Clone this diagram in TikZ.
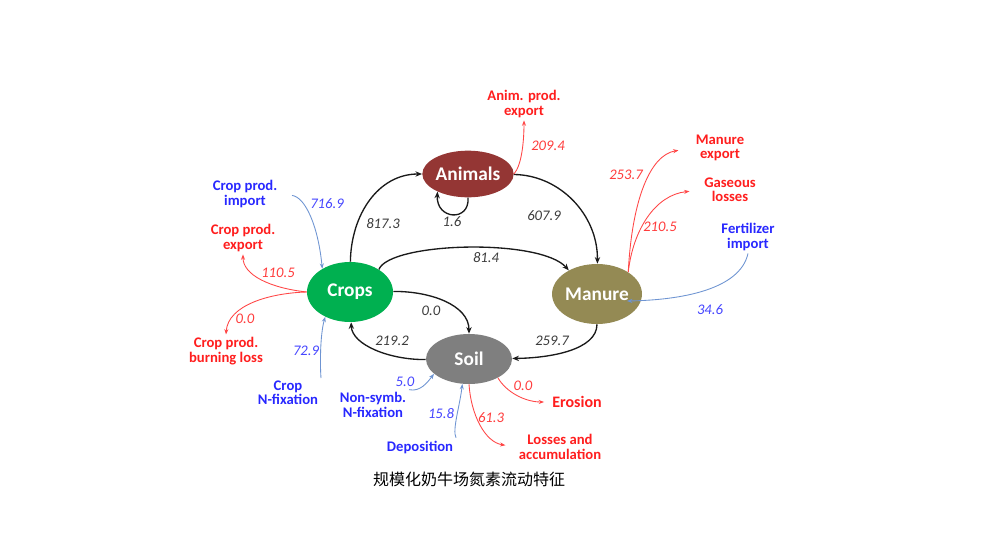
\documentclass[tikz,border=0pt]{standalone}
\usepackage{fontspec}
\setmainfont{Carlito}
\newfontfamily\cjk{Noto Sans CJK SC}
\usetikzlibrary{arrows.meta,shapes.geometric}
\definecolor{animfill}{HTML}{943634}
\definecolor{cropfill}{HTML}{00B050}
\definecolor{manfill}{HTML}{948A54}
\definecolor{soilfill}{HTML}{7F7F7F}
\definecolor{lblred}{HTML}{FF1E1E}
\definecolor{lblblue}{HTML}{2828FF}
\definecolor{numred}{HTML}{FF3C3C}
\definecolor{numblue}{HTML}{4646FF}
\definecolor{numgray}{HTML}{3C3C3C}
\definecolor{flowblack}{HTML}{1A1A1A}
\definecolor{flowred}{HTML}{FF4646}
\definecolor{flowblue}{HTML}{6E94D2}
\begin{document}
\begin{tikzpicture}[x=0.75pt,y=-0.75pt,
  pool/.style={ellipse, inner sep=0pt, text=white, font=\bfseries\fontsize{14.5}{16}\selectfont},
  redlbl/.style={text=lblred, font=\bfseries\fontsize{11}{10.8}\selectfont, align=center, inner sep=2pt},
  bluelbl/.style={text=lblblue, font=\bfseries\fontsize{11}{10.8}\selectfont, align=center, inner sep=2pt},
  num/.style={font=\itshape\fontsize{11}{12}\selectfont, text=numgray, inner sep=0pt},
  rednum/.style={num, text=numred},
  bluenum/.style={num, text=numblue},
  flow/.style={draw=flowblack, line width=1pt, -{Stealth[length=5pt,width=4pt]}},
  rflow/.style={draw=flowred, line width=0.65pt, -{Stealth[length=4pt,width=3pt]}},
  bflow/.style={draw=flowblue, line width=0.65pt, -{Stealth[length=4pt,width=3pt]}}]
\useasboundingbox[fill=white] (0,0) rectangle (1000,539);

% pools
\node[pool, fill=animfill, minimum width=66pt, minimum height=35pt] (animals) at (468,174) {Animals};
\node[pool, fill=cropfill, minimum width=64.5pt, minimum height=45pt] (crops) at (350,292) {Crops};
\node[pool, fill=manfill, minimum width=64.5pt, minimum height=45pt] (manure) at (597,294) {Manure};
\node[pool, fill=soilfill, minimum width=64.5pt, minimum height=37.5pt] (soil) at (469,359) {Soil};

% external labels
\node[redlbl] (animexp) at (524,104) {Anim. prod.\\export};
\node[redlbl] (manexp) at (720,148) {Manure\\export};
\node[redlbl] (gas) at (730,190) {Gaseous\\losses};
\node[bluelbl] (fert) at (748,237) {Fertilizer\\import};
\node[bluelbl] (cimp) at (245,194) {Crop prod.\\import};
\node[redlbl] (cexp) at (243,238) {Crop prod.\\export};
\node[redlbl] (burn) at (226,351) {Crop prod.\\burning loss};
\node[bluelbl] (cfix) at (288,393) {Crop\\N-fixation};
\node[bluelbl] (nsf) at (373,405) {Non-symb.\\N-fixation};
\node[bluelbl] (dep) at (420,447) {Deposition};
\node[redlbl, font=\bfseries\fontsize{12}{12}\selectfont] (eros) at (577,402) {Erosion};
\node[redlbl] (loss) at (560,447) {Losses and\\accumulation};
\coordinate (fertend) at (627,301);

% internal flows
\draw[flow] (crops) .. controls (351,215) and (378,174) .. (animals);
\draw[flow] (animals) .. controls (560,175) and (598,215) .. (manure);
\draw[flow] (animals.south) .. controls (470,222) and (436,220) .. (animals.-150);
\draw[flow] (crops.38) .. controls (390,242) and (540,238) .. (manure.140);
\draw[flow] (crops) .. controls (430,291) and (469,305) .. (soil);
\draw[flow] (soil) .. controls (390,360) and (352,345) .. (crops);
\draw[flow] (manure) .. controls (597,350) and (550,358) .. (soil);

% outputs and inputs
\draw[rflow] (animals.east) .. controls (522,165) and (524,140) .. (animexp.south);
\draw[rflow, shorten >=11pt] (manure.35) .. controls (632,200) and (650,155) .. (manexp.west);
\draw[rflow, shorten >=9pt] (manure.35) .. controls (633,230) and (655,195) .. (gas.west);
\draw[bflow] (fert.south) .. controls (740,290) and (680,300) .. (fertend);
\draw[bflow, shorten <=9pt] (cimp.east) .. controls (305,197) and (318,225) .. (crops.140);
\draw[rflow] (crops.west) .. controls (270,288) and (243,275) .. (cexp.south);
\draw[rflow] (crops.west) .. controls (270,293) and (228,305) .. (burn.north);
\draw[bflow] (cfix.north east) .. controls (320,365) and (320,335) .. (crops.-135);
\draw[bflow] (nsf.north east) .. controls (420,392) and (427,383) .. (soil.-157);
\draw[bflow] (dep.north east) .. controls (452,430) and (460,405) .. (soil.-105);
\draw[rflow, shorten >=4pt] (soil.-33) .. controls (506,392) and (525,402) .. (eros.west);
\draw[rflow, shorten >=8pt] (soil.south) .. controls (471,415) and (485,442) .. (loss.west);

% flow values
\node[num] (v1) at (383,224) {817.3};
\node[num] (v2) at (452,222) {1.6};
\node[num] (v3) at (544,216) {607.9};
\node[num] (v4) at (486,258) {81.4};
\node[num] (v5) at (431,311) {0.0};
\node[num] (v6) at (392,341) {219.2};
\node[num] (v7) at (552,341) {259.7};
\node[rednum] (v8) at (548,146) {209.4};
\node[rednum] (v9) at (626,175) {253.7};
\node[rednum] (v10) at (660,227) {210.5};
\node[bluenum] (v11) at (710,310) {34.6};
\node[bluenum] (v12) at (327,204) {716.9};
\node[rednum] (v13) at (278,273) {110.5};
\node[rednum] (v14) at (245,319) {0.0};
\node[bluenum] (v15) at (306,351) {72.9};
\node[bluenum] (v16) at (405,382) {5.0};
\node[bluenum] (v17) at (441,414) {15.8};
\node[rednum] (v18) at (523,386) {0.0};
\node[rednum] (v19) at (491,418) {61.3};

\node[font=\cjk\fontsize{12}{14}\selectfont, inner sep=0pt] (cap) at (469,479) {规模化奶牛场氮素流动特征};
\end{tikzpicture}
\end{document}
